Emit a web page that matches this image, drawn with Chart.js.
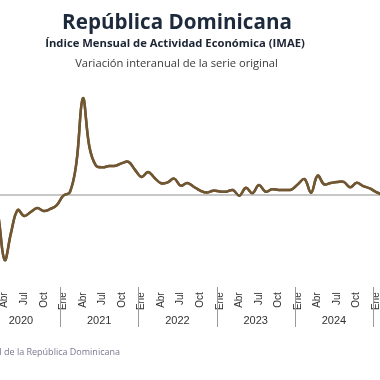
<!DOCTYPE html>
<html>
<head>
<meta charset="utf-8">
<script src="https://cdn.jsdelivr.net/npm/chart.js@4"></script>
<style>
  html, body { margin:0; padding:0; width:380px; height:380px; overflow:hidden; background:#fff; }
  #wrap { position:relative; width:380px; height:380px; overflow:hidden; }
  .t { position:absolute; white-space:nowrap; line-height:1; }
  #t1 { top:11px; font-family:"Open Sans", sans-serif; font-weight:700; font-size:22px; color:#1c2a3c; }
  #t2 { top:37px; font-family:"Open Sans", sans-serif; font-weight:700; font-size:11px; color:#1c2434; }
  #t3 { top:57px; font-family:"Open Sans", sans-serif; font-weight:400; font-size:11px; color:#3a3a3a; }
  #src { top:347px; font-family:"Open Sans", sans-serif; font-size:9px; color:#7a7890; }
  #cv { position:absolute; left:-60px; top:0; }
</style>
</head>
<body>
<div id="wrap">
  <canvas id="cv" width="500" height="380"></canvas>
  <div class="t" id="t1">República Dominicana</div>
  <div class="t" id="t2">Índice Mensual de Actividad Económica (IMAE)</div>
  <div class="t" id="t3">Variación interanual de la serie original</div>
  <div class="t" id="src">Fuente: Banco Central de la República Dominicana</div>
</div>
<script>
const monthNames = ['Ene','Feb','Mar','Abr','May','Jun','Jul','Ago','Sep','Oct','Nov','Dic'];
const shownMonths = ['Ene','Abr','Jul','Oct'];
const years = [2020, 2021, 2022, 2023, 2024, 2025];

const v2020 = [5.0, 4.4, -9.0, -29.8, -17.0, -6.9, -9.6, -7.8, -6.0, -7.3, -6.4, -4.6];
const v2021 = [-0.3, 1.3, 14.7, 44.4, 22.0, 13.5, 12.7, 13.3, 13.4, 14.6, 15.2, 11.5];
const v2022 = [8.3, 10.6, 7.8, 5.4, 5.8, 7.5, 4.3, 5.5, 3.8, 2.0, 1.1, 2.0];
const v2023 = [1.6, 1.5, 2.3, -0.3, 3.3, 0.8, 4.6, 1.5, 2.6, 2.3, 2.3, 2.5];
const v2024 = [5.0, 7.3, 1.0, 8.9, 4.9, 5.5, 6.0, 6.0, 3.5, 5.6, 4.1, 3.0];
const v2025 = [1.3, 0.0];

const seriesByYear = [v2020, v2021, v2022, v2023, v2024, v2025];
const labels = [];
const values = [];
seriesByYear.forEach((arr, yi) => {
  arr.forEach((v, mi) => {
    labels.push(monthNames[mi] + ' ' + years[yi]);
    values.push(v);
  });
});

// fit title widths
function fitWidth(id, target, center) {
  const el = document.getElementById(id);
  const fs = parseFloat(getComputedStyle(el).fontSize);
  const w = el.getBoundingClientRect().width;
  el.style.fontSize = (fs * target / w) + 'px';
  const w2 = el.getBoundingClientRect().width;
  el.style.left = (center - w2 / 2) + 'px';
}
fitWidth('t1', 230, 177);
fitWidth('t2', 260, 175);
fitWidth('t3', 203, 176.5);
(function(){
  const el = document.getElementById('src');
  const w = el.getBoundingClientRect().width;
  el.style.left = (120 - w) + 'px';
})();

const yearPlugin = {
  id: 'yearPlugin',
  afterDraw(chart) {
    const ctx = chart.ctx;
    const x = chart.scales.x, y = chart.scales.y;
    const ca = chart.chartArea;
    // zero line
    const y0 = y.getPixelForValue(0);
    ctx.save();
    ctx.strokeStyle = '#b4b4b4';
    ctx.lineWidth = 1.5;
    ctx.beginPath();
    ctx.moveTo(0, y0);
    ctx.lineTo(chart.width, y0);
    ctx.stroke();
    ctx.restore();
    // redraw line above zero line
    const meta = chart.getDatasetMeta(0);
    ctx.save();
    ctx.beginPath();
    ctx.rect(ca.left, ca.top - 20, ca.right - ca.left, ca.bottom - ca.top + 40);
    ctx.clip();
    meta.dataset.draw(ctx, ca);
    ctx.restore();
    // dividers and year labels
    ctx.save();
    ctx.strokeStyle = '#9a9a9a';
    ctx.lineWidth = 1;
    ctx.fillStyle = '#333';
    ctx.font = '11px "Liberation Sans", Arial, sans-serif';
    ctx.textAlign = 'center';
    ctx.textBaseline = 'middle';
    years.forEach((yr, yi) => {
      const i0 = yi * 12;
      if (i0 > 0 && i0 < labels.length) {
        const xd = (x.getPixelForValue(i0 - 1) + x.getPixelForValue(i0)) / 2;
        ctx.beginPath();
        ctx.moveTo(Math.round(xd) + 0.5, 287);
        ctx.lineTo(Math.round(xd) + 0.5, 327);
        ctx.stroke();
      }
      if (i0 + 6 < labels.length) {
        const xc = (x.getPixelForValue(i0 + 5) + x.getPixelForValue(i0 + 6)) / 2;
        ctx.fillText(String(yr), xc, 321);
      }
    });
    ctx.restore();
  }
};

new Chart(document.getElementById('cv'), {
  type: 'line',
  data: {
    labels: labels,
    datasets: [{
      data: values,
      borderColor: '#715632',
      borderWidth: 2.5,
      pointRadius: 0,
      tension: 0.4,
      fill: false
    }]
  },
  options: {
    responsive: false,
    animation: false,
    events: [],
    layout: { padding: { left: 45.1, right: 57.2, top: 86, bottom: 0 } },
    plugins: { legend: { display: false }, tooltip: { enabled: false } },
    scales: {
      x: {
        type: 'category',
        offset: false,
        grid: { display: false, drawTicks: false },
        border: { display: false },
        afterFit: s => { s.height = 108.7; },
        ticks: {
          autoSkip: false,
          minRotation: 90,
          maxRotation: 90,
          padding: 21,
          color: '#333',
          font: { family: '"Liberation Sans", Arial, sans-serif', size: 10 },
          callback: function(val, idx) {
            const m = monthNames[idx % 12];
            return shownMonths.includes(m) ? m : '';
          }
        }
      },
      y: {
        display: false,
        min: -35,
        max: 50
      }
    }
  },
  plugins: [yearPlugin]
});
</script>
</body>
</html>
